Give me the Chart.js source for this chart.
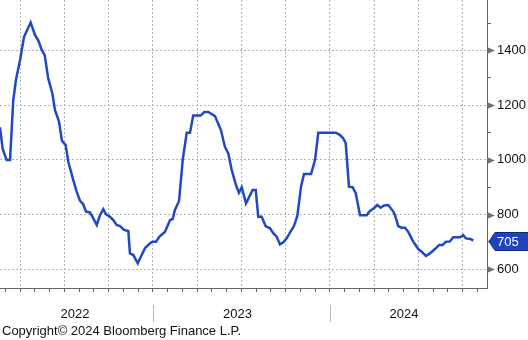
<!DOCTYPE html>
<html>
<head>
<meta charset="utf-8">
<script src="https://cdn.jsdelivr.net/npm/chart.js@4.4.1/dist/chart.umd.min.js"></script>
<style>
  html, body { margin: 0; padding: 0; background: #fff; }
  #wrap { position: relative; width: 528px; height: 340px; }
  #copy { position: absolute; left: 2px; top: 323px; font: 13px "Liberation Sans", Arial, sans-serif; color: #111; white-space: nowrap; }
</style>
</head>
<body>
<div id="wrap">
  <canvas id="chart" width="528" height="340"></canvas>
  <div id="copy">Copyright© 2024 Bloomberg Finance L.P.</div>
</div>
<script>
// x = months since 1 Jan 2022
const months = [1.63, 1.81, 2.08, 2.31, 2.53, 2.71, 2.99, 3.26, 3.71, 4.00, 4.23, 4.46, 4.66, 4.90,
  5.18, 5.36, 5.63, 5.83, 6.08, 6.26, 6.60, 6.83, 7.05, 7.28, 7.46, 7.73, 7.96, 8.19, 8.41, 8.63,
  8.82, 9.09, 9.31, 9.54, 9.77, 10.04, 10.33, 10.44, 10.67, 10.97, 11.24, 11.46, 11.80, 11.98,
  12.21, 12.43, 12.82, 13.16, 13.34, 13.49, 13.77, 14.02, 14.29, 14.51, 14.73, 15.24, 15.48,
  15.75, 16.21, 16.36, 16.61, 16.88, 17.11, 17.34, 17.63, 17.83, 18.02, 18.31, 18.76, 18.97,
  19.14, 19.37, 19.64, 19.94, 20.16, 20.39, 20.61, 20.84, 21.07, 21.29, 21.56, 21.79, 22.04,
  22.24, 22.72, 22.99, 23.21, 23.66, 24.41, 24.68, 24.90, 25.07, 25.29, 25.54, 25.75, 26.04,
  26.49, 26.71, 26.99, 27.21, 27.44, 27.66, 27.96, 28.30, 28.41, 28.63, 28.86, 29.09, 29.31,
  29.65, 29.99, 30.22, 30.51, 30.78, 31.12, 31.41, 31.64, 31.87, 32.14, 32.36, 32.82, 33.04,
  33.22, 33.54, 33.72];
const values = [1119, 1040, 1000, 1000, 1219, 1292, 1365, 1450, 1502, 1457, 1436, 1402, 1383, 1298,
  1243, 1182, 1140, 1070, 1054, 993, 926, 884, 851, 837, 811, 808, 786, 762, 798, 820,
  801, 792, 780, 762, 758, 744, 740, 658, 652, 622, 652, 677, 695, 701,
  701, 719, 737, 780, 784, 817, 850, 1000, 1099, 1099, 1162, 1162, 1175,
  1175, 1160, 1140, 1109, 1048, 1024, 963, 908, 880, 900, 841, 890, 890,
  792, 792, 758, 750, 732, 719, 691, 699, 713, 734, 758, 795, 902,
  948, 948, 1000, 1099, 1099, 1099, 1091, 1079, 1061, 902, 900, 878, 798,
  798, 813, 823, 835, 825, 833, 835, 811, 798, 758, 752, 752, 737,
  701, 674, 664, 649, 658, 674, 689, 689, 701, 702, 717, 717, 725,
  713, 711, 705];

const yTicks = [600, 800, 1000, 1200, 1400];
const yearLabels = ['2022', '2023', '2024'];
const yearLabelPos = [6.71, 17.73, 29.02];
const yearBreaks = [12, 24];

const X_MIN = 1.63, X_MAX = 34.65;
const Y_MIN = 531.6, Y_MAX = 1584.6;
const LINE = '#2049c2';
const FONT = '"Liberation Sans", Arial, sans-serif';

const decor = {
  id: 'decor',
  afterDraw(chart) {
    const ctx = chart.ctx;
    const a = chart.chartArea;
    const ys = chart.scales.y;
    const xs = chart.scales.xYear;
    ctx.save();
    // arrow marks on major y ticks
    ctx.fillStyle = '#707070';
    yTicks.forEach(v => {
      const py = Math.round(ys.getPixelForValue(v)) + 0.5;
      ctx.beginPath();
      ctx.moveTo(a.right + 1, py - 3);
      ctx.lineTo(a.right + 8, py);
      ctx.lineTo(a.right + 1, py + 3);
      ctx.closePath();
      ctx.fill();
    });
    // year separators
    ctx.strokeStyle = '#b8b8b8';
    ctx.lineWidth = 1;
    yearBreaks.forEach(m => {
      const px = Math.round(xs.getPixelForValue(m)) + 0.5;
      ctx.beginPath();
      ctx.moveTo(px, xs.top + 13);
      ctx.lineTo(px, xs.top + 30);
      ctx.stroke();
    });
    // last value tag
    const last = values[values.length - 1];
    const py = Math.round(ys.getPixelForValue(last)) + 0.5;
    const x0 = a.right + 2, x1 = a.right + 8, x2 = chart.width + 2;
    ctx.beginPath();
    ctx.moveTo(x0, py);
    ctx.lineTo(x1, py - 9);
    ctx.lineTo(x2, py - 9);
    ctx.lineTo(x2, py + 9);
    ctx.lineTo(x1, py + 9);
    ctx.closePath();
    ctx.fillStyle = '#1f45bd';
    ctx.fill();
    ctx.strokeStyle = '#10287a';
    ctx.stroke();
    ctx.fillStyle = '#fff';
    ctx.font = '13px ' + FONT;
    ctx.textBaseline = 'middle';
    ctx.textAlign = 'left';
    ctx.fillText(String(last), a.right + 10, py + 1);
    ctx.restore();
  }
};

new Chart(document.getElementById('chart'), {
  type: 'line',
  data: {
    datasets: [{
      data: months.map((m, i) => ({ x: m, y: values[i] })),
      borderColor: LINE,
      borderWidth: 2.5,
      pointRadius: 0,
      tension: 0,
      fill: false,
      xAxisID: 'x',
      yAxisID: 'y'
    }]
  },
  options: {
    responsive: false,
    animation: false,
    layout: { padding: 0 },
    plugins: { legend: { display: false }, tooltip: { enabled: false } },
    scales: {
      x: {
        type: 'linear',
        position: 'bottom',
        min: X_MIN,
        max: X_MAX,
        afterBuildTicks: s => {
          const t = [];
          for (let m = 2; m <= 34; m++) t.push({ value: m });
          s.ticks = t;
        },
        ticks: { display: false },
        grid: {
          color: c => (c.tick && c.tick.value % 3 === 0) ? '#b4b4b4' : 'rgba(0,0,0,0)',
          tickColor: '#666',
          tickLength: 4,
          lineWidth: 1
        },
        border: { color: '#666', width: 1, dash: [2, 2] },
        afterFit: s => { s.height = 4; s.paddingLeft = 0; s.paddingRight = 0; }
      },
      xYear: {
        type: 'linear',
        position: 'bottom',
        min: X_MIN,
        max: X_MAX,
        afterBuildTicks: s => { s.ticks = yearLabelPos.map(v => ({ value: v })); },
        ticks: {
          autoSkip: false,
          maxRotation: 0,
          padding: 15,
          color: '#111',
          font: { family: FONT, size: 13 },
          callback: v => yearLabels[yearLabelPos.indexOf(v)]
        },
        grid: { display: false, drawTicks: false },
        border: { display: false },
        afterFit: s => { s.height = 48; s.paddingLeft = 0; s.paddingRight = 0; }
      },
      y: {
        position: 'right',
        min: Y_MIN,
        max: Y_MAX,
        afterBuildTicks: s => {
          const t = [];
          for (let v = 600; v <= 1500; v += 100) t.push({ value: v });
          s.ticks = t;
        },
        ticks: {
          autoSkip: false,
          padding: 6,
          color: '#111',
          font: { family: FONT, size: 13 },
          callback: v => yTicks.includes(v) ? String(v) : ''
        },
        grid: {
          color: c => (c.tick && yTicks.includes(c.tick.value)) ? '#b4b4b4' : 'rgba(0,0,0,0)',
          tickColor: '#666',
          tickLength: 4
        },
        border: { color: '#666', width: 1, dash: [2, 2] },
        afterFit: s => { s.width = 41; s.paddingTop = 0; s.paddingBottom = 0; }
      }
    }
  },
  plugins: [decor]
});
</script>
</body>
</html>
